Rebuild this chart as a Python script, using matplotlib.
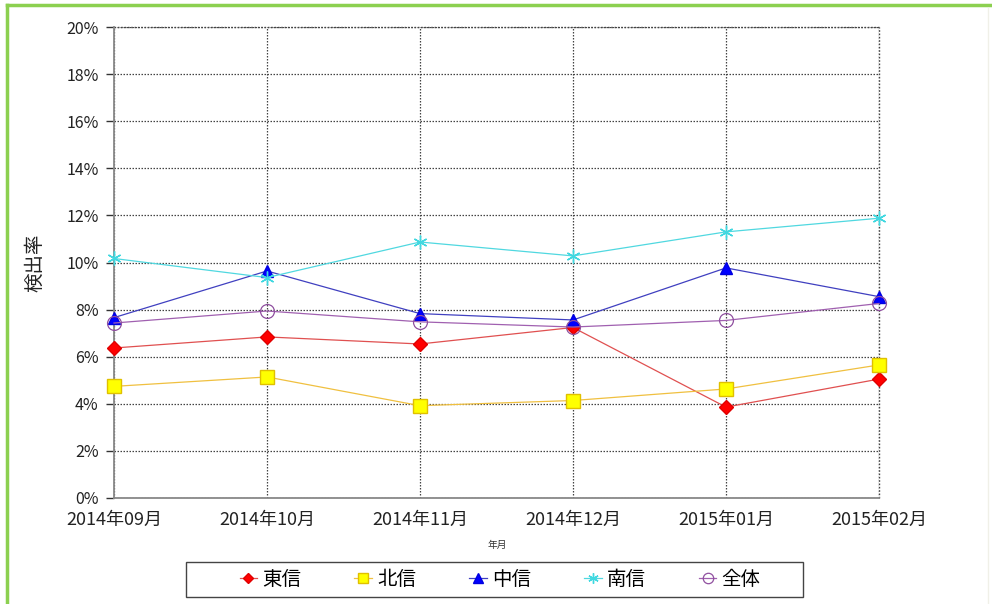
import matplotlib
matplotlib.use("Agg")
import matplotlib.pyplot as plt
from matplotlib.lines import Line2D
from matplotlib.patches import Rectangle
from matplotlib.ticker import FuncFormatter, MultipleLocator

plt.rcParams['font.family'] = ['Noto Sans CJK JP', 'DejaVu Sans']

months = ["2014年09月", "2014年10月", "2014年11月", "2014年12月", "2015年01月", "2015年02月"]
toshin = [6.37, 6.84, 6.54, 7.24, 3.86, 5.05]
hokushin = [4.74, 5.14, 3.92, 4.14, 4.63, 5.65]
chushin = [7.66, 9.64, 7.83, 7.56, 9.77, 8.55]
nanshin = [10.17, 9.36, 10.87, 10.28, 11.30, 11.88]
zentai = [7.43, 7.94, 7.48, 7.26, 7.54, 8.26]

series = [
    ("東信", toshin, dict(color="#E05050", marker="D", markersize=7, markerfacecolor="#FF0000", markeredgecolor="#E00000")),
    ("北信", hokushin, dict(color="#F0C040", marker="s", markersize=10, markerfacecolor="#FFFF00", markeredgecolor="#E0C000")),
    ("中信", chushin, dict(color="#4040C0", marker="^", markersize=9, markerfacecolor="#0000FF", markeredgecolor="#0000E0")),
    ("南信", nanshin, dict(color="#50D8E0", marker=(6, 2, 0), markersize=10, markeredgecolor="#40D8E0", markeredgewidth=1)),
    ("全体", zentai, dict(color="#A060B0", marker="o", markersize=10, markerfacecolor="none", markeredgecolor="#9050A0", markeredgewidth=0.9)),
]

fig = plt.figure(figsize=(9.92, 6.04), dpi=100)
fig.patch.set_facecolor("white")
ax = fig.add_axes([114/992, 1-498/604, 765/992, 471/604])

x = list(range(len(months)))
for name, vals, style in series:
    ax.plot(x, vals, label=name, linewidth=0.9, clip_on=False, zorder=3, **style)

ax.set_xlim(0, len(months)-1)
ax.set_ylim(0, 20)
ax.yaxis.set_major_locator(MultipleLocator(2))
ax.yaxis.set_major_formatter(FuncFormatter(lambda v, p: f"{int(round(v))}%"))
ax.set_xticks(x)
ax.set_xticklabels(months, fontsize=13, color="#222222")
ax.tick_params(axis='x', length=0, pad=9)
ax.tick_params(axis='y', length=6, width=1, color="#333333", labelsize=11.5, labelcolor="#222222", pad=5)

ax.grid(True, linestyle=(0, (1.2, 1.2)), color="#444444", linewidth=0.9)
ax.set_axisbelow(True)
for s in ["top", "right"]:
    ax.spines[s].set_visible(False)
for s in ["left", "bottom"]:
    ax.spines[s].set_color("#888888")
    ax.spines[s].set_linewidth(1.3)
    ax.spines[s].set_zorder(2)
# dotted frame at top and right
ax.plot([0, len(months)-1], [20, 20], linestyle=(0, (1.2, 1.2)), color="#444444", linewidth=1, clip_on=False, zorder=1)
ax.plot([len(months)-1, len(months)-1], [0, 20], linestyle=(0, (1.2, 1.2)), color="#444444", linewidth=1, clip_on=False, zorder=1)

ax.set_ylabel("検出率", fontsize=14, color="#222222")
ax.yaxis.set_label_coords((45-114)/765, 0.5)
ax.set_xlabel("年月", fontsize=7, color="#333333")
ax.xaxis.label.set_va("center")
ax.xaxis.set_label_coords((497-114)/765, (498-545)/471)

leg = fig.legend(loc="center", bbox_to_anchor=(500/992, 1-579.5/604), ncol=5,
                 fontsize=14, handlelength=0.9, handletextpad=0.25, columnspacing=2.75,
                 frameon=False, markerscale=0.75)

# legend frame
fig.add_artist(Rectangle((186/992, 1-597/604), (803-186)/992, 35/604, transform=fig.transFigure,
                         facecolor="none", edgecolor="#444444", linewidth=1.0))

# green border (top and left)
fig.add_artist(Line2D([7/992, 1], [1-5/604, 1-5/604], color="#8CD050", linewidth=2.5, transform=fig.transFigure))
fig.add_artist(Line2D([7/992, 7/992], [0, 1-5/604], color="#8CD050", linewidth=2.5, transform=fig.transFigure))
fig.add_artist(Line2D([988/992, 988/992], [0, 1-8/604], color="#F0F0E8", linewidth=1, transform=fig.transFigure))

fig.savefig("out.png", dpi=100, facecolor="white")
